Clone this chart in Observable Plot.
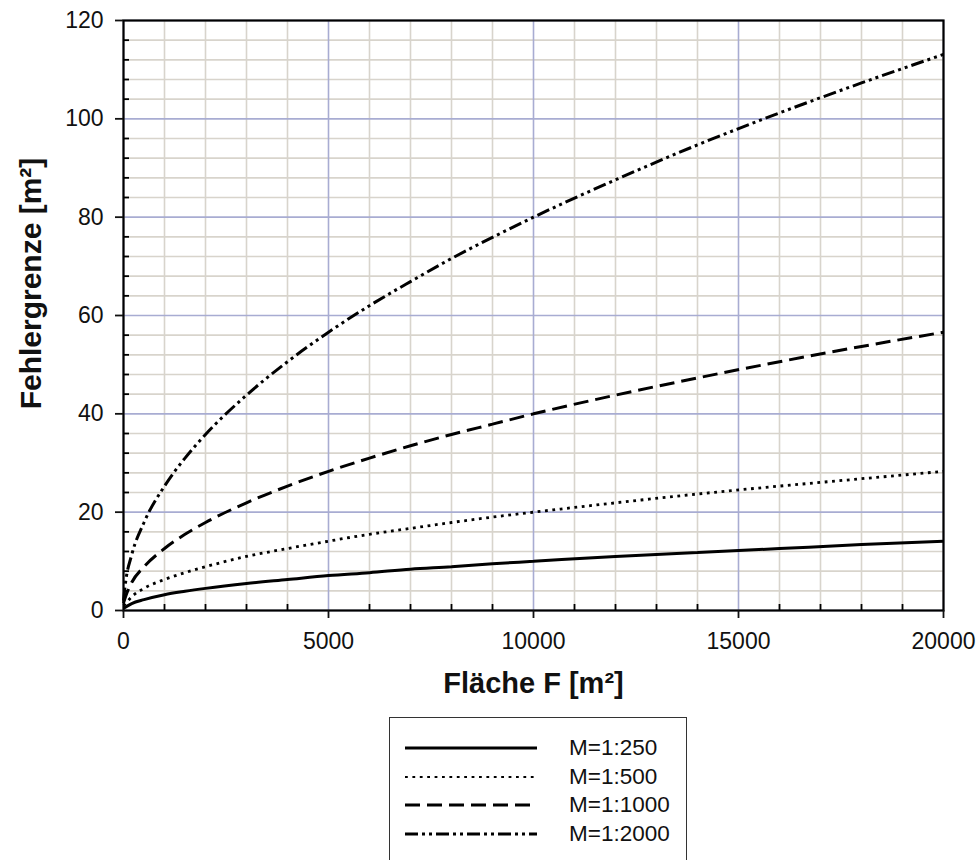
<!DOCTYPE html>
<html>
<head>
<meta charset="utf-8">
<script src="https://cdn.jsdelivr.net/npm/d3@7"></script>
<script src="https://cdn.jsdelivr.net/npm/@observablehq/plot@0.6"></script>
<style>
  html, body { margin: 0; padding: 0; background: #fff; }
  body { width: 978px; height: 860px; overflow: hidden; font-family: "Liberation Sans", Arial, sans-serif; }
  #legend {
    position: absolute; left: 389px; top: 717px; width: 298px; height: 160px;
    border: 1.5px solid #333; box-sizing: border-box; background: #fff;
  }
  .row { position: absolute; left: 0; height: 28px; display: flex; align-items: center; }
  .row svg { margin-left: 15px; }
  .row span { margin-left: 30px; font-size: 22.5px; color: #111; }
</style>
</head>
<body>
<div id="chart"></div>
<div id="legend"></div>
<script>
// ---- data ----
const area = [0, 50, 200, 500, 1000, 1500, 2000, 3000, 4000, 5000, 6000, 7000, 8000, 9000, 10000, 12000, 14000, 16000, 18000, 20000];
const m250  = [0.5, 0.7, 1.4, 2.2, 3.2, 3.9, 4.5, 5.5, 6.3, 7.1, 7.7, 8.4, 8.9, 9.5, 10.0, 11.0, 11.8, 12.6, 13.4, 14.1];
const m500  = [1.0, 1.4, 2.8, 4.5, 6.3, 7.7, 8.9, 11.0, 12.6, 14.1, 15.5, 16.7, 17.9, 19.0, 20.0, 21.9, 23.7, 25.3, 26.8, 28.3];
const m1000 = [1.5, 2.8, 5.7, 8.9, 12.6, 15.5, 17.9, 21.9, 25.3, 28.3, 31.0, 33.5, 35.8, 37.9, 40.0, 43.8, 47.3, 50.6, 53.7, 56.6];
const m2000 = [2.0, 5.7, 11.3, 17.9, 25.3, 31.0, 35.8, 43.8, 50.6, 56.6, 62.0, 66.9, 71.6, 75.9, 80.0, 87.6, 94.7, 101.2, 107.3, 113.1];
const seriesNames = ["M=1:250", "M=1:500", "M=1:1000", "M=1:2000"];
const seriesValues = [m250, m500, m1000, m2000];
const seriesDash = [null, "2.8,4.6", "15,7", "13,4,3,4,3,4"];

const xMajor = [0, 5000, 10000, 15000, 20000];
const xMinor = d3.range(1000, 20000, 1000).filter(v => v % 5000 !== 0);
const yMajor = [0, 20, 40, 60, 80, 100, 120];
const yMinor = d3.range(4, 120, 4).filter(v => v % 20 !== 0);

const rows = [];
seriesNames.forEach((name, s) => area.forEach((a, i) => rows.push({name, F: a, v: seriesValues[s][i]})));

const lineMarks = seriesNames.map((name, s) =>
  Plot.line(rows.filter(d => d.name === name), {
    x: "F", y: "v", curve: "monotone-x", stroke: "#000", strokeWidth: s === 1 ? 2.8 : 3,
    strokeDasharray: seriesDash[s], strokeLinecap: "butt", strokeLinejoin: "miter"
  })
);

const chart = Plot.plot({
  width: 978, height: 705,
  marginLeft: 123, marginRight: 35, marginTop: 20, marginBottom: 95,
  style: {fontFamily: "Liberation Sans, Arial, sans-serif", background: "#fff", color: "#111"},
  x: {domain: [0, 20000]},
  y: {domain: [0, 120]},
  marks: [
    Plot.ruleX(xMinor, {stroke: "#d8d4cc", strokeWidth: 1.6}),
    Plot.ruleY(yMinor, {stroke: "#d8d4cc", strokeWidth: 1.6}),
    Plot.ruleX(xMajor, {stroke: "#a8acd2", strokeWidth: 1.6}),
    Plot.ruleY(yMajor, {stroke: "#a8acd2", strokeWidth: 1.6}),
    // minor inward ticks
    Plot.ruleX(xMinor, {x: d => d, y1: 0, y2: 0, insetBottom: 6, stroke: "#000", strokeWidth: 1.8}),
    Plot.ruleY(yMinor, {y: d => d, x1: 0, x2: 0, insetRight: -6, stroke: "#000", strokeWidth: 1.8}),
    ...lineMarks,
    Plot.frame({stroke: "#000", strokeWidth: 2.2}),
    Plot.axisX({ticks: xMajor, tickSize: 8, tickPadding: 14, fontSize: 23, label: null, tickFormat: d => String(d), strokeWidth: 1.8}),
    Plot.axisY({ticks: yMajor, tickSize: 8, tickPadding: 12, fontSize: 23, label: null, tickFormat: d => String(d), strokeWidth: 1.8}),
    Plot.text(["Fläche F [m²]"], {frameAnchor: "bottom", dy: 82, fontSize: 29, fontWeight: "bold", fill: "#111"}),
    Plot.text(["Fehlergrenze [m²]"], {frameAnchor: "left", dx: -92, dy: -32, rotate: -90, textAnchor: "middle", fontSize: 30, fontWeight: "bold", fill: "#111", style: {letterSpacing: "1.2px"}})
  ]
});
document.getElementById("chart").appendChild(chart);

// legend (HTML, below the SVG)
const legend = document.getElementById("legend");
seriesNames.forEach((name, s) => {
  const row = document.createElement("div");
  row.className = "row";
  row.style.top = (16 + s * 28.7) + "px";
  const dash = seriesDash[s] ? ` stroke-dasharray="${seriesDash[s]}"` : "";
  row.innerHTML = `<svg width="134" height="10"><line x1="0" y1="5" x2="132" y2="5" stroke="#000" stroke-width="${s === 1 ? 2.2 : 3}"${dash}/></svg><span>${name}</span>`;
  legend.appendChild(row);
});
</script>
</body>
</html>
